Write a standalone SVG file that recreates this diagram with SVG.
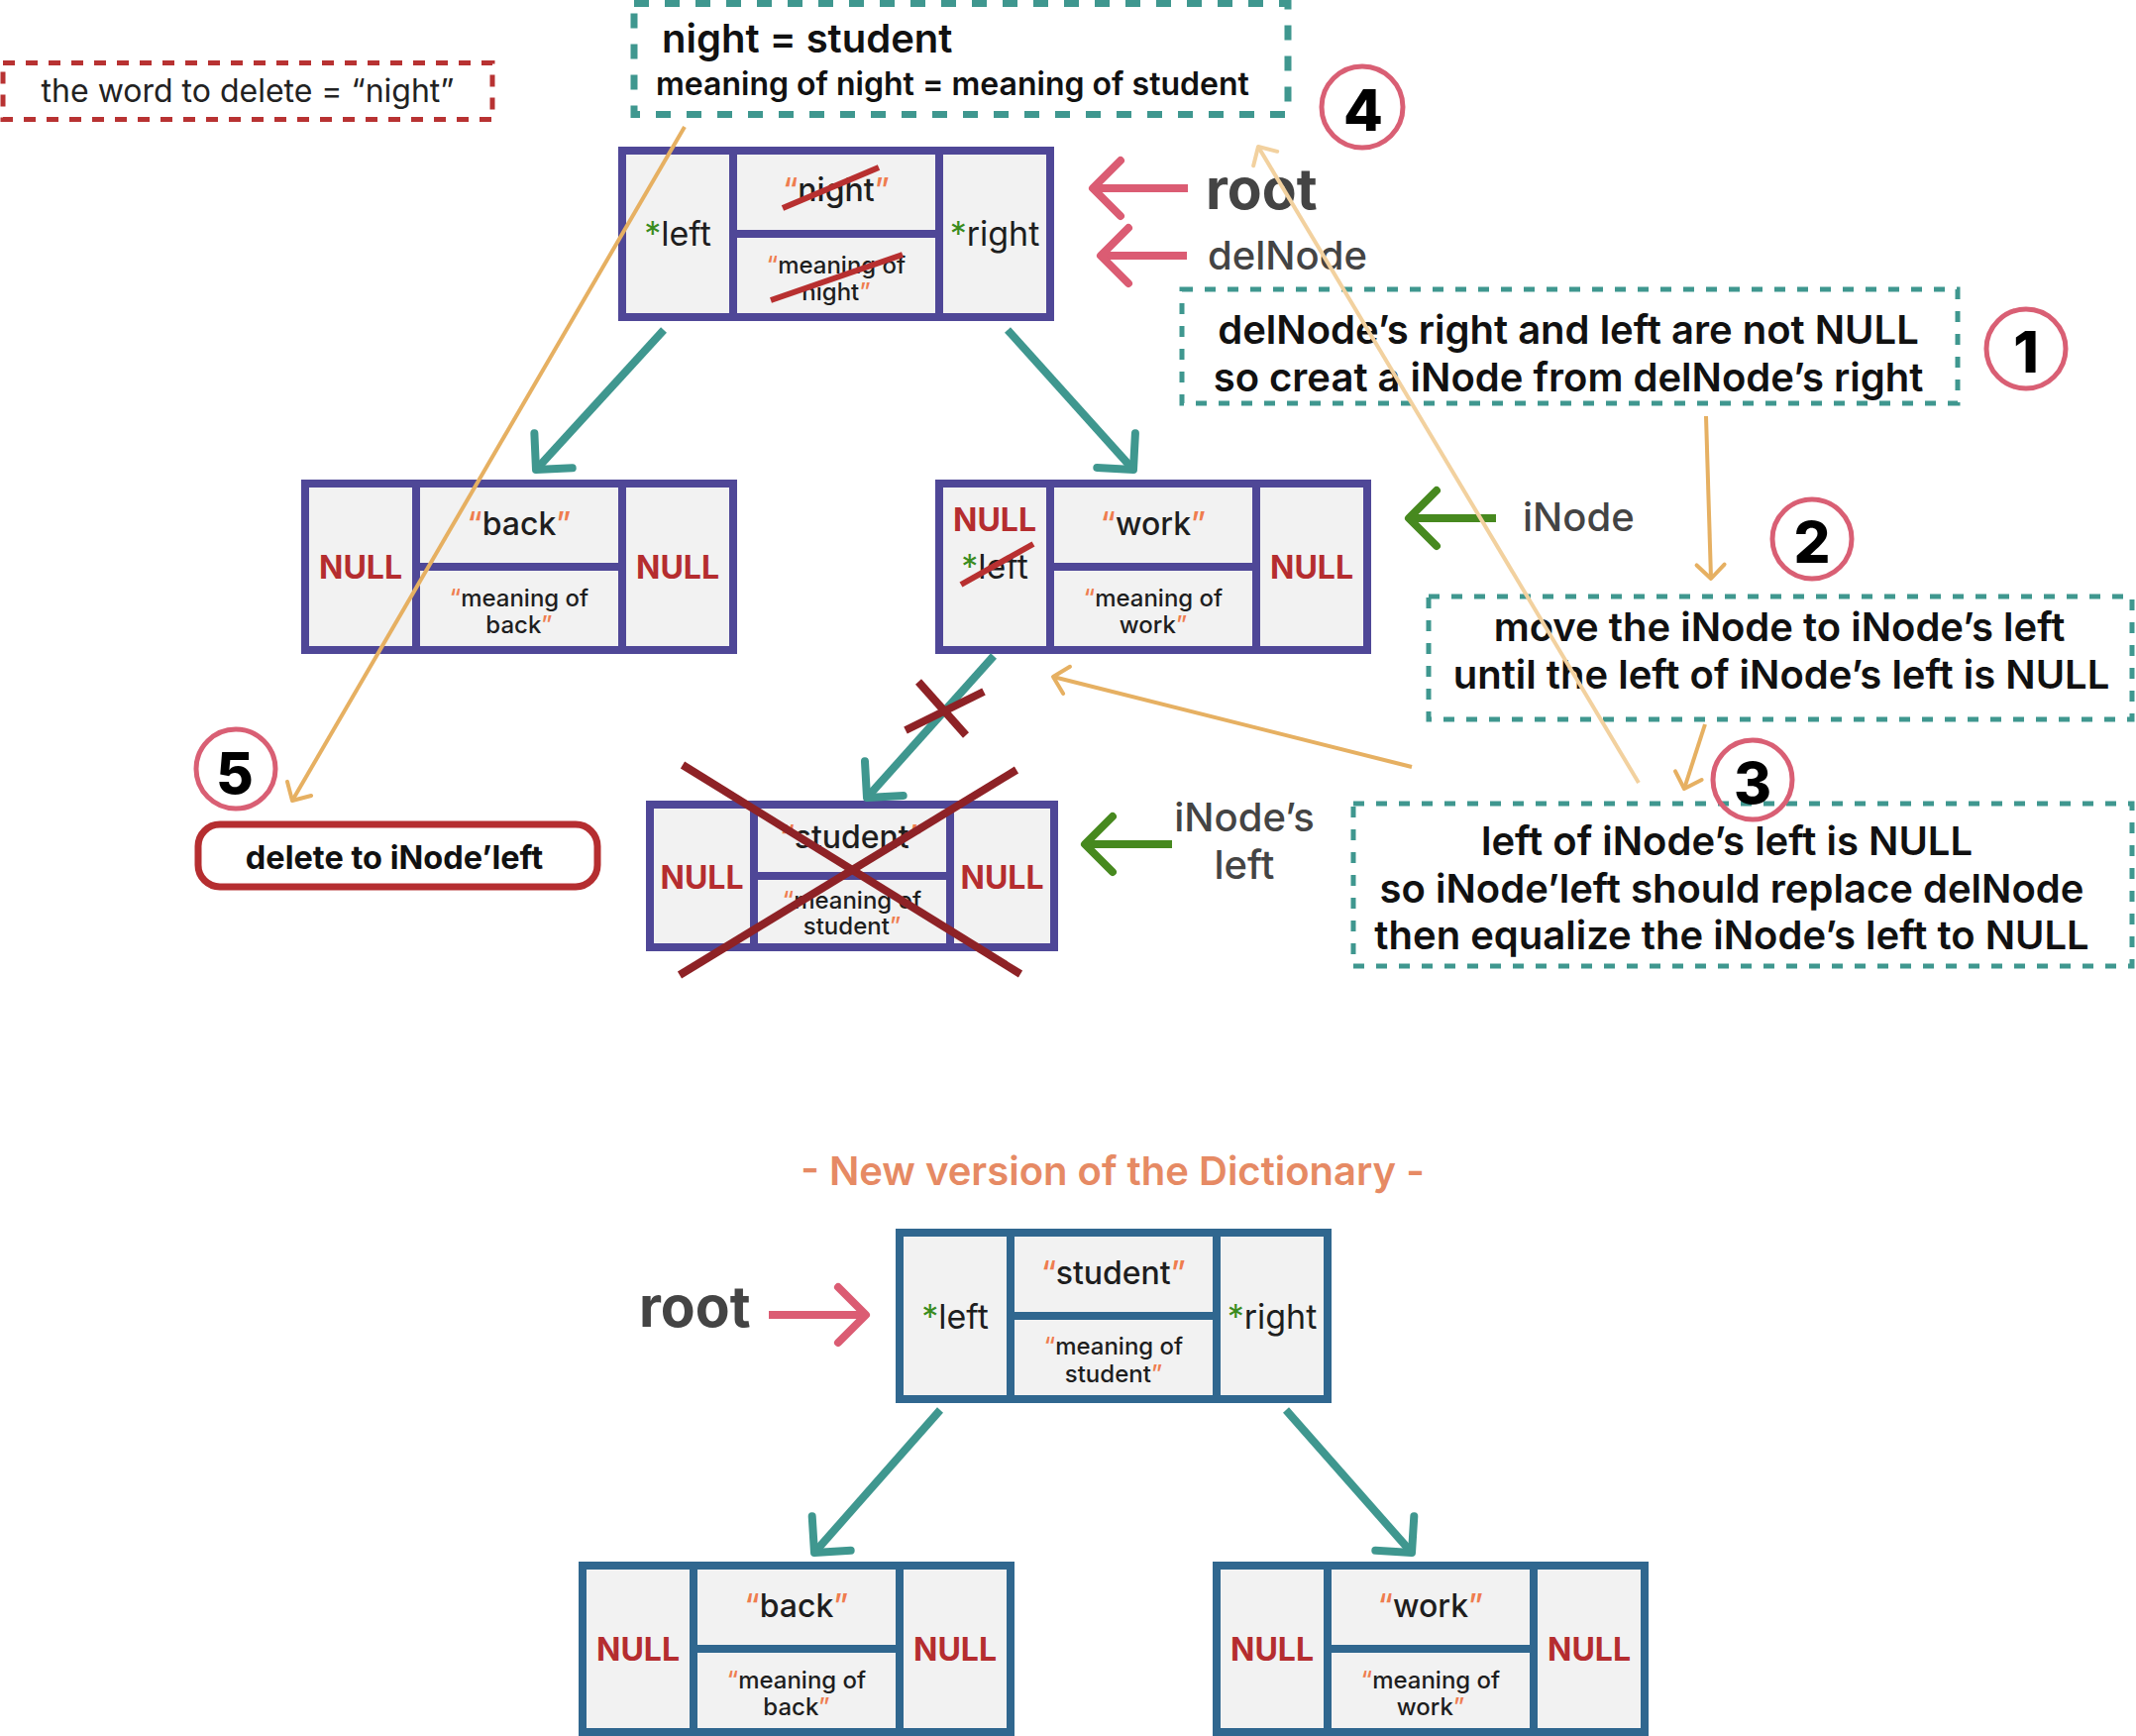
<svg xmlns="http://www.w3.org/2000/svg" width="2156" height="1752" viewBox="0 0 2156 1752">
<style>
text{font-family:Inter,"Noto Sans","Liberation Sans",sans-serif;}
.nf{fill:#f2f2f2}
.pb{fill:none;stroke:#4f4797;stroke-width:8}
.bb{fill:none;stroke:#30678f;stroke-width:8}
.c{text-anchor:middle}
.word{font-size:32px;font-weight:500;fill:#1e1e1e}
.mean{font-size:24px;font-weight:500;fill:#1e1e1e}
.null{font-size:32px;font-weight:700;fill:#b52d2f}
.ptr{font-size:34px;font-weight:400;fill:#1e1e1e}
.ast{fill:#3b8c1e}
.q{fill:#ef7d4f}
.strike{stroke:#b83030;stroke-width:6;stroke-linecap:butt}
.bigx{stroke:#8e2226;stroke-width:8}
.tdash{fill:none;stroke:#3f978f;stroke-width:5;stroke-dasharray:11 12}
.note{font-size:40px;font-weight:600;fill:#111}
.circ{fill:none;stroke:#d95f74;stroke-width:5}
.num{font-size:58px;font-weight:800;fill:#000;text-anchor:middle}
.lbl{font-size:40px;font-weight:500;fill:#444}
.rootl{font-size:57px;font-weight:700;fill:#444}
.teal{stroke:#3f978f;stroke-width:8;fill:none;marker-end:url(#mTeal)}
.pink{stroke:#db5c73;stroke-width:8;fill:none;marker-end:url(#mPink)}
.green{stroke:#47891f;stroke-width:8;fill:none;marker-end:url(#mGreen)}
.orng{stroke:#e6b062;stroke-width:4;fill:none;marker-end:url(#mOrange)}
.lorng{stroke:#f2d19f;stroke-width:4;fill:none;marker-end:url(#mLight)}
</style>
<defs>
<marker id="mTeal" markerUnits="userSpaceOnUse" viewBox="-40 -40 80 80" markerWidth="80" markerHeight="80" refX="0" refY="0" orient="auto" overflow="visible"><path d="M-26,-26 L0,0 L-26,26" fill="none" stroke="#3f978f" stroke-width="8" stroke-linecap="round" stroke-linejoin="round"/></marker>
<marker id="mPink" markerUnits="userSpaceOnUse" viewBox="-40 -40 80 80" markerWidth="80" markerHeight="80" refX="0" refY="0" orient="auto" overflow="visible"><path d="M-28,-28 L0,0 L-28,28" fill="none" stroke="#db5c73" stroke-width="8" stroke-linecap="round" stroke-linejoin="round"/></marker>
<marker id="mGreen" markerUnits="userSpaceOnUse" viewBox="-40 -40 80 80" markerWidth="80" markerHeight="80" refX="0" refY="0" orient="auto" overflow="visible"><path d="M-28,-28 L0,0 L-28,28" fill="none" stroke="#47891f" stroke-width="8" stroke-linecap="round" stroke-linejoin="round"/></marker>
<marker id="mOrange" markerUnits="userSpaceOnUse" viewBox="-30 -30 60 60" markerWidth="60" markerHeight="60" refX="0" refY="0" orient="auto" overflow="visible"><path d="M-14,-14 L0,0 L-14,14" fill="none" stroke="#e6b062" stroke-width="4" stroke-linecap="round" stroke-linejoin="round"/></marker>
<marker id="mLight" markerUnits="userSpaceOnUse" viewBox="-30 -30 60 60" markerWidth="60" markerHeight="60" refX="0" refY="0" orient="auto" overflow="visible"><path d="M-14,-14 L0,0 L-14,14" fill="none" stroke="#f2d19f" stroke-width="4" stroke-linecap="round" stroke-linejoin="round"/></marker>
</defs>
<rect width="2156" height="1752" fill="#fff"/>

<g id="word-to-delete">
<rect x="3" y="63.5" width="494" height="57" fill="none" stroke="#b83232" stroke-width="5" stroke-dasharray="12 11"/>
<text x="250" y="103" class="c" font-size="32" fill="#222">the word to delete = “night”</text>
</g>

<g id="note-4">
<rect x="640" y="3.5" width="660" height="112" fill="none" stroke="#3f978f" stroke-width="7" stroke-dasharray="15 16"/>
<text x="668" y="53" font-size="40" font-weight="600" fill="#111">night = student</text>
<text x="662" y="96" font-size="32" font-weight="600" fill="#111">meaning of night = meaning of student</text>
</g>

<g id="node-night">
<rect x="628" y="152" width="432" height="168" class="nf"/>
<rect x="628" y="152" width="432" height="168" class="pb"/>
<path d="M740,152V320M948,152V320M740,236H948" class="pb"/>
<text x="684" y="248" class="ptr c"><tspan class="ast">*</tspan>left</text>
<text x="844" y="203" class="word c"><tspan class="q">“</tspan>night<tspan class="q">”</tspan></text>
<text x="844" y="276" class="mean c"><tspan class="q">“</tspan>meaning of</text>
<text x="844" y="303" class="mean c">night<tspan class="q">”</tspan></text>
<text x="1004" y="248" class="ptr c"><tspan class="ast">*</tspan>right</text>
<line x1="790" y1="210" x2="887" y2="169" class="strike"/>
<line x1="778" y1="303" x2="911" y2="257" class="strike"/>
</g>

<g id="node-back">
<rect x="308" y="488" width="432" height="168" class="nf"/>
<rect x="308" y="488" width="432" height="168" class="pb"/>
<path d="M420,488V656M628,488V656M420,572H628" class="pb"/>
<text x="364" y="584" class="null c">NULL</text>
<text x="524" y="540" class="word c"><tspan class="q">“</tspan>back<tspan class="q">”</tspan></text>
<text x="524" y="612" class="mean c"><tspan class="q">“</tspan>meaning of</text>
<text x="524" y="639" class="mean c">back<tspan class="q">”</tspan></text>
<text x="684" y="584" class="null c">NULL</text>
</g>

<g id="node-work">
<rect x="948" y="488" width="432" height="168" class="nf"/>
<rect x="948" y="488" width="432" height="168" class="pb"/>
<path d="M1060,488V656M1268,488V656M1060,572H1268" class="pb"/>
<text x="1004" y="536" class="null c">NULL</text>
<text x="1004" y="584" class="ptr c"><tspan class="ast">*</tspan>left</text>
<line x1="970" y1="590" x2="1043" y2="549" class="strike"/>
<text x="1164" y="540" class="word c"><tspan class="q">“</tspan>work<tspan class="q">”</tspan></text>
<text x="1164" y="612" class="mean c"><tspan class="q">“</tspan>meaning of</text>
<text x="1164" y="639" class="mean c">work<tspan class="q">”</tspan></text>
<text x="1324" y="584" class="null c">NULL</text>
</g>

<g id="node-student">
<rect x="656" y="812" width="408" height="144" class="nf"/>
<rect x="656" y="812" width="408" height="144" class="pb"/>
<path d="M761,812V956M959,812V956M761,884H959" class="pb"/>
<text x="708.5" y="897" class="null c">NULL</text>
<text x="860" y="856" class="word c"><tspan class="q">“</tspan>student<tspan class="q">”</tspan></text>
<text x="860" y="917" class="mean c"><tspan class="q">“</tspan>meaning of</text>
<text x="860" y="943" class="mean c">student<tspan class="q">”</tspan></text>
<text x="1011.5" y="897" class="null c">NULL</text>
<line x1="689" y1="772" x2="1030" y2="983" class="bigx"/>
<line x1="1026" y1="777" x2="686" y2="984" class="bigx"/>
</g>

<g id="label-root">
<text x="1217" y="211" class="rootl">root</text>
</g>
<g id="label-delNode">
<text x="1219" y="272" class="lbl" font-size="41">delNode</text>
</g>
<g id="label-iNode">
<text x="1537" y="536" class="lbl">iNode</text>
</g>
<g id="label-iNode-left">
<text x="1256" y="839" class="lbl c">iNode’s</text>
<text x="1256" y="887" class="lbl c">left</text>
</g>

<g id="note-1">
<rect x="1193" y="292" width="783" height="115" class="tdash"/>
<text x="1583" y="347" class="note c">delNode’s right and left are not NULL</text>
<text x="1583" y="395" class="note c">so creat a iNode from delNode’s right</text>
</g>
<g id="note-2">
<rect x="1442" y="602" width="710" height="124" class="tdash"/>
<text x="1796" y="647" class="note c">move the iNode to iNode’s left</text>
<text x="1798" y="695" class="note c">until the left of iNode’s left is NULL</text>
</g>
<g id="note-3">
<rect x="1366" y="811" width="786" height="164" class="tdash"/>
<text x="1743" y="863" class="note c">left of iNode’s left is NULL</text>
<text x="1748" y="911" class="note c">so iNode’left should replace delNode</text>
<text x="1748" y="958" class="note c">then equalize the iNode’s left to NULL</text>
</g>

<g id="step-4"><circle cx="1375" cy="108" r="41" class="circ"/><text x="1376" y="132" class="num">4</text></g>
<g id="step-1"><circle cx="2045" cy="352" r="40" class="circ"/><text x="2045" y="376" class="num">1</text></g>
<g id="step-2"><circle cx="1829" cy="544" r="40" class="circ"/><text x="1829" y="568" class="num">2</text></g>
<g id="step-3"><circle cx="1769" cy="787" r="40" class="circ"/><text x="1769" y="811" class="num">3</text></g>
<g id="step-5"><circle cx="238" cy="776" r="40" class="circ"/><text x="237" y="801" class="num">5</text></g>

<g id="delete-box">
<rect x="200" y="832" width="403" height="63" rx="22" fill="#fff" stroke="#b52e30" stroke-width="7"/>
<text x="398" y="877" class="c" font-size="32.5" font-weight="700" fill="#111">delete to iNode’left</text>
</g>

<g id="title">
<text x="1123" y="1196" class="c" font-size="40" font-weight="600" fill="#e68a64">- New version of the Dictionary -</text>
</g>

<g id="label-root-new">
<text x="645" y="1339" class="rootl">root</text>
</g>

<g id="node-new-root">
<rect x="908" y="1244" width="432" height="168" class="nf"/>
<rect x="908" y="1244" width="432" height="168" class="bb"/>
<path d="M1020,1244V1412M1228,1244V1412M1020,1328H1228" class="bb"/>
<text x="964" y="1341" class="ptr c"><tspan class="ast">*</tspan>left</text>
<text x="1124" y="1296" class="word c"><tspan class="q">“</tspan>student<tspan class="q">”</tspan></text>
<text x="1124" y="1367" class="mean c"><tspan class="q">“</tspan>meaning of</text>
<text x="1124" y="1395" class="mean c">student<tspan class="q">”</tspan></text>
<text x="1284" y="1341" class="ptr c"><tspan class="ast">*</tspan>right</text>
</g>

<g id="node-new-back">
<rect x="588" y="1580" width="432" height="168" class="nf"/>
<rect x="588" y="1580" width="432" height="168" class="bb"/>
<path d="M700,1580V1748M908,1580V1748M700,1664H908" class="bb"/>
<text x="644" y="1676" class="null c">NULL</text>
<text x="804" y="1632" class="word c"><tspan class="q">“</tspan>back<tspan class="q">”</tspan></text>
<text x="804" y="1704" class="mean c"><tspan class="q">“</tspan>meaning of</text>
<text x="804" y="1731" class="mean c">back<tspan class="q">”</tspan></text>
<text x="964" y="1676" class="null c">NULL</text>
</g>

<g id="node-new-work">
<rect x="1228" y="1580" width="432" height="168" class="nf"/>
<rect x="1228" y="1580" width="432" height="168" class="bb"/>
<path d="M1340,1580V1748M1548,1580V1748M1340,1664H1548" class="bb"/>
<text x="1284" y="1676" class="null c">NULL</text>
<text x="1444" y="1632" class="word c"><tspan class="q">“</tspan>work<tspan class="q">”</tspan></text>
<text x="1444" y="1704" class="mean c"><tspan class="q">“</tspan>meaning of</text>
<text x="1444" y="1731" class="mean c">work<tspan class="q">”</tspan></text>
<text x="1604" y="1676" class="null c">NULL</text>
</g>

<g id="connectors">
<line x1="670" y1="333" x2="541" y2="474" class="teal"/>
<line x1="1017" y1="333" x2="1144" y2="474" class="teal"/>
<line x1="1003" y1="662" x2="875" y2="805" class="teal" stroke-width="7"/>
<line x1="949" y1="1423" x2="822" y2="1567" class="teal"/>
<line x1="1298" y1="1423" x2="1425" y2="1567" class="teal"/>
<line x1="927" y1="688" x2="975" y2="742" class="bigx"/>
<line x1="914" y1="737" x2="993" y2="698" class="bigx"/>
<line x1="1199" y1="190" x2="1103" y2="190" class="pink"/>
<line x1="1198" y1="258" x2="1111" y2="258" class="pink"/>
<line x1="776" y1="1327" x2="874" y2="1327" class="pink"/>
<line x1="1510" y1="523" x2="1422" y2="523" class="green"/>
<line x1="1183" y1="852" x2="1095" y2="852" class="green"/>
<line x1="1722" y1="420" x2="1727" y2="584" class="orng"/>
<line x1="1721" y1="731" x2="1700" y2="796" class="orng"/>
<line x1="1425" y1="774" x2="1063" y2="683" class="orng"/>
<line x1="691" y1="128" x2="295" y2="808" class="orng"/>
<line x1="1654" y1="790" x2="1270" y2="148" class="lorng"/>
</g>
</svg>
